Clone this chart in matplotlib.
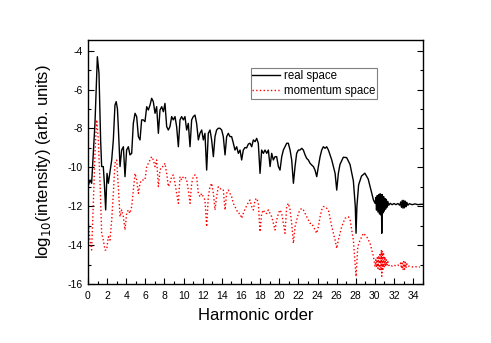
"""
Harmonic spectrum: real space vs momentum space, log10 intensity vs harmonic order.
"""
import matplotlib
matplotlib.use("Agg")
import matplotlib.pyplot as plt
from matplotlib.ticker import MultipleLocator

plt.rcParams['font.family'] = ['Liberation Sans', 'DejaVu Sans']
plt.rcParams['axes.unicode_minus'] = False

# real space spectrum
real_order = [
    0.0, 0.21, 0.38, 0.56, 0.73, 0.98, 1.15, 1.32, 1.43, 1.60, 1.71, 1.85, 1.99, 2.13, 2.30, 2.48, 2.65, 2.82,
    2.95, 3.08, 3.17, 3.35, 3.52, 3.70, 3.87, 4.04, 4.22, 4.39, 4.57, 4.74, 4.92, 5.09, 5.27, 5.44, 5.61,
    5.79, 5.96, 6.14, 6.31, 6.49, 6.66, 6.83, 7.01, 7.18, 7.36, 7.53, 7.71, 7.88, 8.05, 8.23, 8.40,
    8.57, 8.75, 8.92, 9.10, 9.27, 9.45, 9.62, 9.79, 9.97, 10.14, 10.32, 10.49, 10.67, 10.84, 11.01, 11.19,
    11.36, 11.54, 11.71, 11.89, 12.06, 12.23, 12.41, 12.58, 12.76, 12.93, 13.11, 13.28, 13.45, 13.63, 13.80,
    13.98, 14.15, 14.33, 14.50, 14.67, 14.85, 15.02, 15.20, 15.37, 15.55, 15.72, 15.90, 16.07, 16.24, 16.42,
    16.59, 16.77, 16.94, 17.12, 17.29, 17.47, 17.64, 17.81, 17.99, 18.16, 18.34, 18.51, 18.69, 18.86, 19.04,
    19.21, 19.38, 19.56, 19.73, 19.91, 20.08, 20.26, 20.43, 20.60, 20.78, 20.95, 21.13, 21.30, 21.48, 21.65,
    21.82, 22.00, 22.17, 22.35, 22.52, 22.70, 22.87, 23.04, 23.22, 23.39, 23.57, 23.74, 23.92, 24.09, 24.27,
    24.44, 24.61, 24.79, 24.96, 25.14, 25.49, 25.84, 26.01, 26.18, 26.35, 26.70, 27.05, 27.40, 27.75, 27.95,
    28.03, 28.12, 28.30, 28.60, 28.95, 29.30, 29.60, 29.85, 30.02, 30.10, 30.17, 30.25, 30.32, 30.40, 30.47,
    30.55, 30.62, 30.68, 30.72, 30.77, 30.84, 30.91, 30.98, 31.05, 31.12, 31.19, 31.27, 31.35, 31.45, 31.60,
    31.80, 32.00, 32.20, 32.40, 32.60, 32.70, 32.78, 32.86, 32.94, 33.02, 33.10, 33.18, 33.26, 33.34, 33.45,
    33.60, 33.90, 34.20, 34.50, 34.80, 35.00,
]
real_logI = [
    -10.99, -10.65, -10.82, -9.28, -7.74, -4.31, -5.16, -8.59, -9.96, -9.96, -10.82, -12.19, -10.31, -10.82,
    -10.22, -9.62, -8.59, -6.80, -6.62, -7.00, -7.91, -9.96, -9.11, -8.94, -10.48, -9.11, -8.94, -9.36, -9.28,
    -7.74, -7.22, -7.39, -8.42, -8.59, -7.56, -7.56, -7.65, -6.88, -7.05, -6.79, -6.45, -6.62, -7.22, -6.88,
    -8.25, -7.05, -6.88, -7.14, -6.71, -7.91, -8.08,
    -7.91, -7.39, -7.56, -7.39, -7.91, -8.94, -7.56, -7.39, -7.56, -7.39, -8.08, -7.74, -8.94, -7.56, -7.39,
    -7.31, -7.74, -8.59, -8.25, -8.08, -8.59, -8.25, -10.14, -8.25, -8.08, -8.59, -9.45, -8.42, -8.08, -7.99,
    -7.99, -8.08, -8.42, -9.36, -8.42, -8.25, -8.42, -8.42, -8.76, -9.11, -8.94, -9.28, -9.11, -9.62, -9.11,
    -8.98, -9.00, -8.80, -8.76, -8.94, -8.59, -8.68, -8.51, -8.76, -10.31, -9.11, -9.28, -9.11, -9.28, -9.11,
    -9.96, -9.28, -9.62, -9.45, -9.45, -9.96, -10.14, -9.45, -9.11, -8.94, -8.76, -8.76, -9.11, -9.62, -10.82,
    -9.96, -9.28, -9.11, -9.11, -9.02, -9.11, -9.36, -9.54, -9.62, -9.79, -9.88, -9.96, -10.14, -10.48, -9.96,
    -9.45, -9.11, -8.94, -9.02, -8.94, -9.11, -9.62, -10.31, -11.17, -10.31, -9.85, -9.48, -9.50, -9.85,
    -10.70, -12.00, -13.39, -12.00, -10.90, -10.45, -10.30, -10.60, -11.20, -11.68, -11.85, -11.55, -12.20,
    -11.45, -12.30, -11.40, -12.40, -11.35, -12.45, -11.40, -13.39, -11.40, -12.35, -11.50, -12.25, -11.60,
    -12.15, -11.65, -12.05, -11.75, -11.95, -11.85, -11.92, -11.86, -11.92, -11.86, -11.95, -11.78, -12.05,
    -11.70, -12.10, -11.70, -12.08, -11.74, -12.02, -11.80, -11.95, -11.87, -11.92, -11.88, -11.92, -11.90,
    -11.90,
]

# momentum space spectrum
mom_order = [
    0.0, 0.21, 0.38, 0.56, 0.73, 0.91, 1.08, 1.26, 1.43, 1.60, 1.78, 1.95, 2.13, 2.30, 2.48, 2.65, 2.82, 3.00,
    3.17, 3.35, 3.52, 3.70, 3.87, 4.04, 4.22, 4.39, 4.57, 4.74, 4.92, 5.09, 5.27, 5.44, 5.61, 5.79, 5.96,
    6.14, 6.31, 6.49, 6.66, 6.83, 7.01, 7.18, 7.36, 7.53, 7.71, 7.88, 8.05, 8.23, 8.40, 8.57, 8.75, 8.92,
    9.10, 9.27, 9.45, 9.62, 9.79, 9.97, 10.14, 10.32, 10.49, 10.67, 10.84, 11.01, 11.19, 11.36, 11.54, 11.71,
    11.89, 12.06, 12.23, 12.41, 12.58, 12.76, 12.93, 13.11, 13.28, 13.45, 13.63, 13.80, 13.98, 14.15, 14.33,
    14.50, 14.67, 14.85, 15.02, 15.20, 15.37, 15.55, 15.72, 15.90, 16.07, 16.24, 16.42, 16.59, 16.77, 16.94,
    17.12, 17.29, 17.47, 17.64, 17.81, 17.99, 18.16, 18.34, 18.51, 18.69, 18.86, 19.04, 19.21, 19.38, 19.56,
    19.73, 19.91, 20.08, 20.26, 20.43, 20.60, 20.78, 20.95, 21.13, 21.30, 21.48, 21.65, 21.82, 22.00, 22.17,
    22.35, 22.52, 22.70, 22.87, 23.04, 23.22, 23.39, 23.57, 23.74, 23.92, 24.09, 24.27, 24.44, 24.61, 24.79,
    25.14, 25.49, 25.84, 26.01, 26.18, 26.53, 26.88, 27.23, 27.41, 27.75, 28.03, 28.21, 28.45, 28.80, 29.15,
    29.50, 29.85, 30.02, 30.10, 30.17, 30.25, 30.32, 30.40, 30.47, 30.55, 30.62, 30.68, 30.72, 30.77, 30.84,
    30.91, 30.98, 31.05, 31.12, 31.19, 31.27, 31.35, 31.45, 31.60, 31.80, 32.00, 32.20, 32.40, 32.60, 32.70,
    32.78, 32.86, 32.94, 33.02, 33.10, 33.18, 33.26, 33.34, 33.45, 33.60, 33.90, 34.20, 34.50, 34.70,
]
mom_logI = [
    -12.71, -13.74, -14.25, -11.85, -9.28, -7.56, -8.59, -10.82, -13.39, -13.74, -14.25, -14.25, -13.57,
    -13.74, -12.71, -11.34, -9.79, -9.62, -10.99, -12.54, -12.19, -12.54, -13.22, -12.37, -12.19, -12.37,
    -12.02, -11.17, -10.31, -10.65, -11.34, -10.82, -10.65, -10.65, -10.65, -9.96, -9.79, -9.62, -9.45, -9.62,
    -9.96, -9.62, -10.99, -10.14, -9.96, -9.96, -9.79, -10.31, -10.99, -10.82, -10.48, -10.39, -10.82, -11.34,
    -11.85, -10.48, -10.65, -10.48, -10.48, -10.65, -11.17, -11.85, -10.82, -10.48, -10.39, -10.48, -11.34,
    -11.51, -11.34, -11.51, -11.68, -13.05, -11.51, -10.99, -10.82, -11.34, -12.19, -11.51, -10.99, -11.08,
    -11.17, -11.17, -12.19, -11.34, -11.17, -11.34, -11.51, -11.85, -12.02, -12.19, -12.37, -12.37, -12.62,
    -12.37, -12.15, -11.98, -11.80, -11.68, -12.02, -12.19, -11.68, -11.59, -11.85, -13.31, -12.37, -12.19,
    -12.37, -12.37, -12.19, -12.37, -12.54, -12.88, -13.22, -12.71, -12.37, -12.19, -12.37, -12.88, -13.39,
    -12.02, -11.85, -12.19, -12.88, -13.91, -13.05, -12.71, -12.37, -12.19, -12.11, -12.19, -12.37, -12.54,
    -12.71, -12.88, -12.88, -13.05, -13.22, -13.39, -13.05, -12.54, -12.19, -12.02, -12.02, -12.19, -13.05,
    -13.74, -14.17, -13.74, -13.05, -12.62, -12.54, -12.71, -13.74, -15.62, -14.08, -13.74, -13.39, -13.57,
    -13.91, -14.59, -15.11, -14.75, -15.15, -14.65, -15.20, -14.55, -15.25, -14.40, -15.30, -14.25, -15.60,
    -14.30, -15.25, -14.45, -15.15, -14.60, -15.10, -14.75, -15.05, -14.85, -15.05, -15.00, -15.08, -15.02,
    -15.08, -15.03, -15.05, -14.92, -15.20, -14.85, -15.28, -14.85, -15.25, -14.88, -15.18, -14.96, -15.10,
    -15.08, -15.12, -15.10, -15.14, -15.12,
]

fig = plt.figure(figsize=(4.91, 3.43), dpi=100)
ax = fig.add_axes([0.1792, 0.172, 0.6817, 0.7114])

ax.plot(real_order, real_logI, color='black', lw=1.0, label='real space')
ax.plot(mom_order, mom_logI, color='red', lw=1.0, linestyle=':', label='momentum space')

ax.set_xlim(0, 35)
ax.set_ylim(-16, -3.45)
ax.xaxis.set_major_locator(MultipleLocator(2))
ax.xaxis.set_minor_locator(MultipleLocator(1))
ax.yaxis.set_major_locator(MultipleLocator(2))
ax.yaxis.set_minor_locator(MultipleLocator(1))
ax.tick_params(which='both', direction='in', top=False, right=True, labelsize=7.5, width=0.8)
ax.tick_params(which='major', length=4.5)
ax.tick_params(which='minor', length=2.5)
ax.tick_params(axis='x', which='major', pad=5)
ax.tick_params(axis='y', which='major', pad=3.5)
for sp in ax.spines.values():
    sp.set_linewidth(1.0)

ax.set_xlabel('Harmonic order', fontsize=12, labelpad=5)
ax.set_ylabel('log$_{10}$(intensity) (arb. units)', fontsize=12, labelpad=11)

leg = ax.legend(loc='upper left', bbox_to_anchor=(0.486, 0.884), borderaxespad=0,
                fontsize=8.3, handlelength=2.4, handletextpad=0.3, borderpad=0.15,
                labelspacing=0.25, fancybox=False, framealpha=1)
leg.get_frame().set_edgecolor('gray')
leg.get_frame().set_linewidth(0.8)

fig.savefig('out.png', dpi=100)
